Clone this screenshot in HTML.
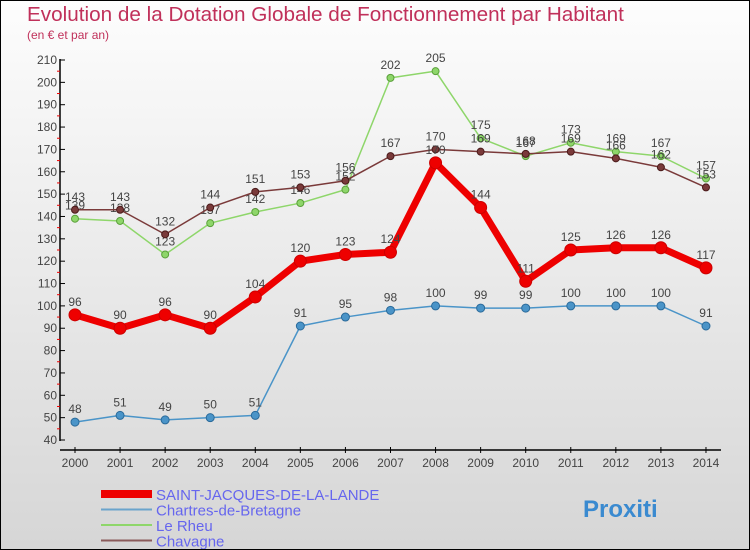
<!DOCTYPE html>
<html><head><meta charset="utf-8"><style>
html,body{margin:0;padding:0}
body{width:750px;height:550px;overflow:hidden;font-family:"Liberation Sans",sans-serif}
#wrap{position:relative;width:748px;height:548px;border:1px solid #000;background:linear-gradient(#fdfdfd,#d6d6d6)}
.t{position:absolute;color:#c0305a}
</style></head><body>
<div id="wrap">
<div class="t" style="left:26px;top:2px;font-size:20.7px">Evolution de la Dotation Globale de Fonctionnement par Habitant</div>
<div class="t" style="left:26px;top:27px;font-size:12px">(en € et par an)</div>
<svg id="svg" width="748" height="548" style="position:absolute;left:0;top:0"></svg>
</div>
<script>
const years=[2000,2001,2002,2003,2004,2005,2006,2007,2008,2009,2010,2011,2012,2013,2014];
const yTicks=[40,50,60,70,80,90,100,110,120,130,140,150,160,170,180,190,200,210];
const sjdll=[96,90,96,90,104,120,123,124,164,144,111,125,126,126,117];
const chartres=[48,51,49,50,51,91,95,98,100,99,99,100,100,100,91];
const rheu=[139,138,123,137,142,146,152,202,205,175,167,173,169,167,157];
const chavagne=[143,143,132,144,151,153,156,167,170,169,168,169,166,162,153];
const labSj=[96,90,96,90,104,120,123,124,170,144,111,125,126,126,117];
const NS="http://www.w3.org/2000/svg";
const svg=document.getElementById('svg');
const X=i=>74+i*45.07;
const Y=v=>439-(v-40)*380/170;
function el(tag,attrs,parent){const e=document.createElementNS(NS,tag);for(const k in attrs)e.setAttribute(k,attrs[k]);(parent||svg).appendChild(e);return e;}
const ax=el('line',{x1:59,y1:58,x2:59,y2:440,stroke:'#000','stroke-width':1.5});


const xa=el('line',{x1:59,y1:449,x2:720,y2:449,stroke:'#000','stroke-width':1.5});


yTicks.forEach(v=>{
  el('line',{x1:59,y1:Y(v),x2:64,y2:Y(v),stroke:'#000'});
  if(v<210) el('line',{x1:56,y1:Y(v+5),x2:59,y2:Y(v+5),stroke:'#e00'});
  const t=el('text',{x:56,y:Y(v)+4,'text-anchor':'end','font-size':12,fill:'#444'});
  t.textContent=v;
  
  
});
years.forEach((yr,i)=>{
  el('line',{x1:X(i),y1:446,x2:X(i),y2:452,stroke:'#000'});
  const t=el('text',{x:X(i),y:466,'text-anchor':'middle','font-size':12,fill:'#444'});
  t.textContent=yr;
  
  
});
function series(vals,color,w,r,name,labs,dark){
  const g=el('g',{});
  
  
  el('polyline',{points:vals.map((v,i)=>X(i)+','+Y(v)).join(' '),fill:'none',stroke:color,'stroke-width':w,'stroke-linejoin':'round'},g);
  vals.forEach((v,i)=>{
    const c=el('circle',{cx:X(i),cy:Y(v),r:r,fill:color,stroke:dark,'stroke-width':1},g);
    
    
    const t=el('text',{x:X(i),y:Y(v)-9,'text-anchor':'middle','font-size':12,fill:'#444'},g);
    t.textContent=(labs||vals)[i];
  });
}
series(chartres,'#4a94c8',1.5,4,'series-chartres',null,'#2a6a9a');
series(rheu,'#8ed66a',1.5,3.5,'series-le-rheu',null,'#5aa03a');
series(chavagne,'#7a3a3a',1.5,3.5,'series-chavagne',null,'#4a1a1a');
series(sjdll,'#ee0000',7,6,'series-saint-jacques',labSj,'#c00');
const leg=[['SAINT-JACQUES-DE-LA-LANDE','#ee0000',8],['Chartres-de-Bretagne','#6aa4cc',2],['Le Rheu','#8ed66a',2],['Chavagne','#8a5a5a',2]];
leg.forEach((l,i)=>{
  const y=493+i*15.5;
  const ln=el('line',{x1:100,y1:y,x2:151,y2:y,stroke:l[1],'stroke-width':l[2]});
  
  
  const t=el('text',{x:155,y:y+6,'font-size':15,fill:'#6666ee'});
  t.textContent=l[0];
  
  
});
const p=el('text',{x:582,y:516,'font-size':24,'font-weight':'bold',fill:'#3a8ad0'});
p.textContent='Proxiti';


</script>
</body></html>
